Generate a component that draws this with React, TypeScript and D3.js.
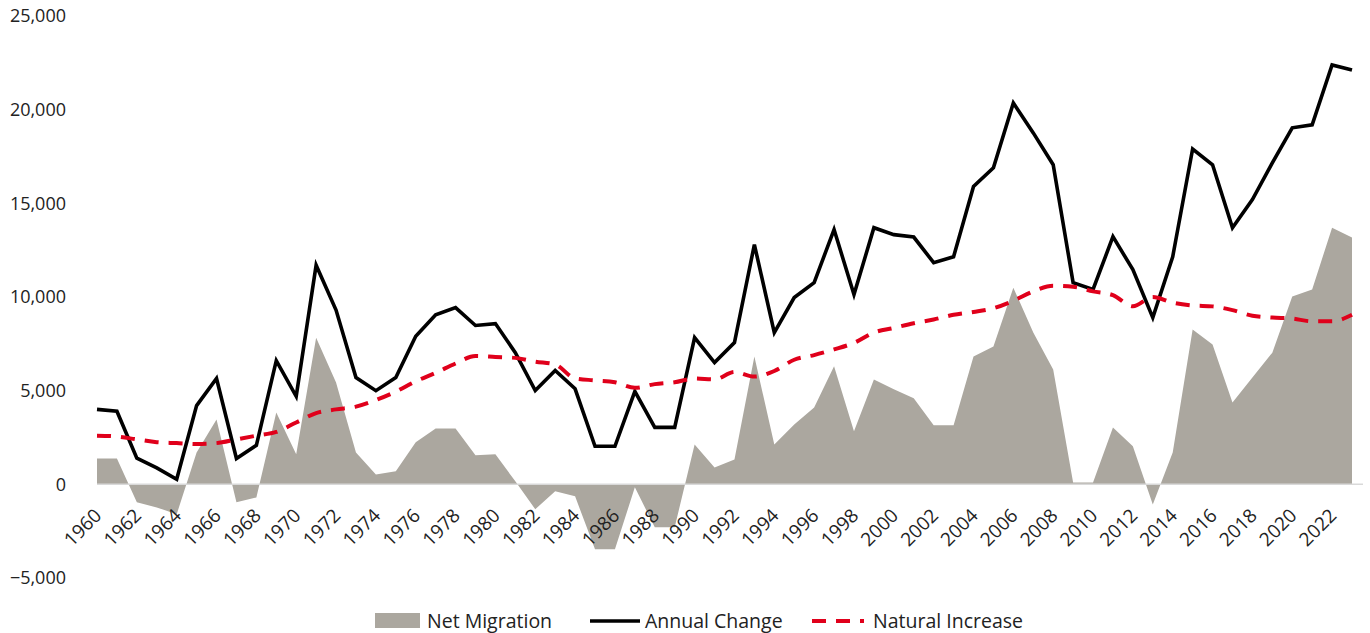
import React from "react";
import * as d3 from "d3";

const years: number[] = d3.range(1960, 2024);

const annualChange: number[] = [
  4000, 3900, 1400, 880, 270, 4200, 5650, 1380, 2080, 6600,
  4700, 11700, 9300, 5700, 5000, 5700, 7900, 9050, 9430, 8480,
  8580, 7030, 5010, 6080, 5100, 2030, 2030, 4960, 3040, 3040,
  7830, 6500, 7570, 12800, 8100, 9970, 10770, 13600, 10130, 13700,
  13330, 13200, 11830, 12150, 15900, 16900, 20360, 18760, 17060, 10770,
  10400, 13220, 11460, 8900, 12150, 17900, 17060, 13700, 15200, 17160,
  19030, 19190, 22390, 22120,
];

const naturalIncrease: number[] = [
  2600, 2550, 2400, 2250, 2200, 2150, 2200, 2400, 2600, 2800,
  3300, 3800, 4000, 4150, 4500, 4950, 5500, 5950, 6450, 6850,
  6800, 6750, 6550, 6400, 5650, 5550, 5450, 5150, 5350, 5450,
  5650, 5600, 6000, 5750, 6050, 6650, 6900, 7200, 7550, 8100,
  8350, 8600, 8800, 9050, 9200, 9400, 9800, 10300, 10600, 10550,
  10300, 10100, 9500, 10000, 9700, 9550, 9500, 9300, 9000, 8900,
  8850, 8700, 8700, 9050,
];

const netMigration: number[] = [
  1380, 1380, -960, -1230, -1600, 1700, 3460, -960, -700, 3830,
  1600, 7830, 5440, 1700, 530, 700, 2240, 2980, 2980, 1550,
  1600, 160, -1330, -370, -640, -3470, -3470, -160, -2290, -2290,
  2130, 900, 1330, 6830, 2130, 3200, 4100, 6300, 2830, 5600,
  5070, 4600, 3150, 3150, 6830, 7360, 10500, 8100, 6130, 100,
  100, 3040, 2030, -1070, 1700, 8260, 7460, 4370, 5700, 7030,
  10030, 10400, 13700, 13170,
];

const yTicks: number[] = [-5000, 0, 5000, 10000, 15000, 20000, 25000];
const xTickYears: number[] = d3.range(1960, 2023, 2);

const legendItems: string[] = ["Net Migration", "Annual Change", "Natural Increase"];

const FONT = "'Open Sans', 'Noto Sans', sans-serif";

export default function App() {
  const W = 1370;
  const H = 633;
  const x = d3.scaleLinear().domain([1960, 2023]).range([97, 1352]);
  const y = d3.scaleLinear().domain([-5000, 25000]).range([578, 16]);

  const area = d3
    .area<number>()
    .x((_, i) => x(years[i]))
    .y0(y(0))
    .y1((d) => y(d));
  const line = d3
    .line<number>()
    .x((_, i) => x(years[i]))
    .y((d) => y(d));
  const smooth = d3
    .line<number>()
    .x((_, i) => x(years[i]))
    .y((d) => y(d))
    .curve(d3.curveMonotoneX);

  const fmt = d3.format(",");

  return (
    <svg
      width={W}
      height={H}
      style={{ position: "absolute", left: 0, top: 0, background: "#fff" }}
    >
      <path d={area(netMigration) || ""} fill="#aba79f" />
      <line x1={97} x2={1363} y1={y(0)} y2={y(0)} stroke="#d9d9d9" strokeWidth={1.5} />
      <path d={line(annualChange) || ""} fill="none" stroke="#000" strokeWidth={3.6} strokeLinejoin="miter" />
      <path
        d={smooth(naturalIncrease) || ""}
        fill="none"
        stroke="#e0001b"
        strokeWidth={4}
        strokeDasharray="14 10"
      />
      {yTicks.map((t) => (
        <text
          key={t}
          x={66}
          y={y(t)}
          dy="0.35em"
          textAnchor="end"
          fontFamily={FONT}
          fontSize={18}
          fill="#222"
        >
          {fmt(t)}
        </text>
      ))}
      {xTickYears.map((yr) => (
        <text
          key={yr}
          transform={`translate(${x(yr) + 1},${512}) rotate(-45)`}
          textAnchor="end"
          dy="0.35em"
          fontFamily={FONT}
          fontSize={19}
          fill="#222"
        >
          {yr}
        </text>
      ))}
      <g fontFamily={FONT} fontSize={19.5} fill="#222">
        <rect x={375} y={613} width={45} height={15} fill="#aba79f" />
        <text x={427} y={621} dy="0.35em">{legendItems[0]}</text>
        <line x1={590} x2={640} y1={621} y2={621} stroke="#000" strokeWidth={3.5} />
        <text x={645} y={621} dy="0.35em">{legendItems[1]}</text>
        <line x1={812} x2={864} y1={621} y2={621} stroke="#e0001b" strokeWidth={4} strokeDasharray="14 10" />
        <text x={873} y={621} dy="0.35em">{legendItems[2]}</text>
      </g>
    </svg>
  );
}
